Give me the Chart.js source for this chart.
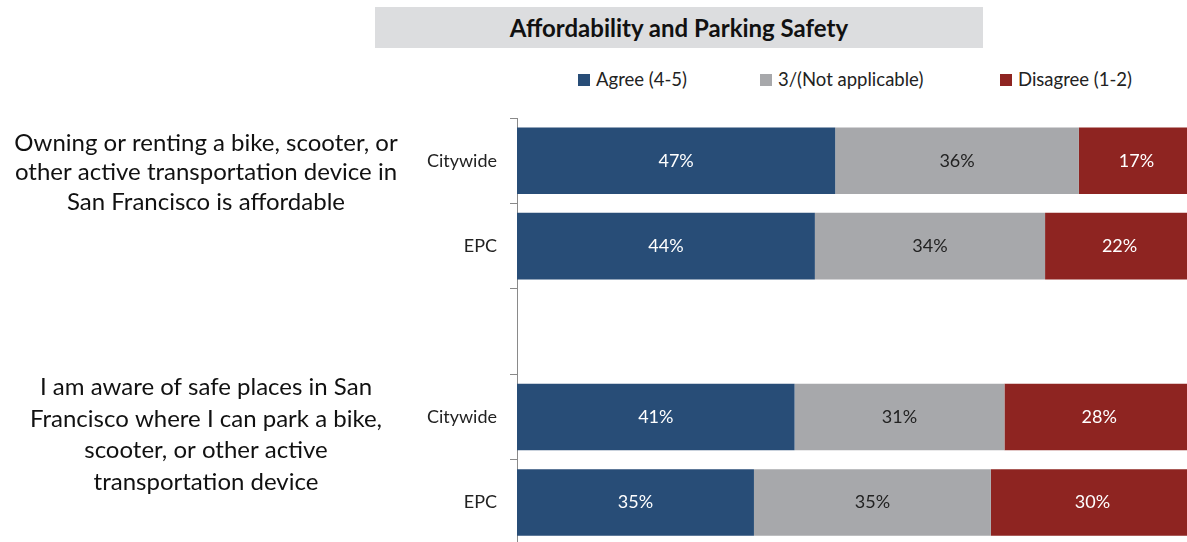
<!DOCTYPE html>
<html>
<head>
<meta charset="utf-8">
<script src="https://cdn.jsdelivr.net/npm/chart.js@4"></script>
<style>
  html, body { margin: 0; padding: 0; background: #fff; overflow: hidden; }
  body { width: 1187px; height: 542px; position: relative; font-family: Lato, "Open Sans", sans-serif; }
  #title {
    position: absolute; left: 375px; top: 7px; width: 608px; height: 41px;
    background: #dcdddf; color: #111; font-weight: bold; font-size: 24px;
    line-height: 42px; text-align: center;
  }
  .item { position: absolute; top: 68px; font-size: 18.5px; color: #222; white-space: nowrap; }
  .box { display: inline-block; width: 12px; height: 12px; margin-right: 6px; vertical-align: 0px; }
  #chart { position: absolute; left: 0; top: 0; }
</style>
</head>
<body>
<div id="title"></div>
<div id="legend"></div>
<canvas id="chart" width="1194" height="569"></canvas>
<script>
var chartTitle = "Affordability and Parking Safety";
var categories = ["Citywide", "EPC", "", "Citywide", "EPC"];
var seriesNames = ["Agree (4-5)", "3/(Not applicable)", "Disagree (1-2)"];
var seriesColors = ["#284d77", "#a7a8ab", "#8e2421"];
var labelColors = ["#ffffff", "#222222", "#ffffff"];
var agree = [47, 44, null, 41, 35];
var neutral = [36, 34, null, 31, 35];
var disagree = [17, 22, null, 28, 30];
var questions = [
  { rows: [0, 1], lines: ["Owning or renting a bike, scooter, or", "other active transportation device in", "San Francisco is affordable"] },
  { rows: [3, 4], lines: ["I am aware of safe places in San", "Francisco where I can park a bike,", "scooter, or other active", "transportation device"] }
];

// text block placement (layout only)
var questionShift = [-31, -25];
var questionLineHeight = [29.5, 31.7];

document.getElementById("title").textContent = chartTitle;
var legendLeft = [578, 760, 1000];
var legendHtml = "";
for (var i = 0; i < seriesNames.length; i++) {
  legendHtml += '<span class="item" style="left:' + legendLeft[i] + 'px"><span class="box" style="background:' + seriesColors[i] + '"></span>' + seriesNames[i] + '</span>';
}
document.getElementById("legend").innerHTML = legendHtml;

var font = "Lato, 'Open Sans', sans-serif";

var barLabels = {
  id: "barLabels",
  afterDatasetsDraw: function(chart) {
    var ctx = chart.ctx;
    ctx.save();
    ctx.font = "18px " + font;
    ctx.textAlign = "center";
    ctx.textBaseline = "middle";
    chart.data.datasets.forEach(function(ds, di) {
      var meta = chart.getDatasetMeta(di);
      meta.data.forEach(function(bar, j) {
        var v = ds.data[j];
        if (v == null) return;
        var p = bar.getProps(["x", "y", "base"], true);
        ctx.fillStyle = labelColors[di];
        ctx.fillText(v + "%", (p.x + p.base) / 2, p.y);
      });
    });
    ctx.restore();
  }
};

var questionText = {
  id: "questionText",
  afterDraw: function(chart) {
    var ctx = chart.ctx;
    var y = chart.scales.y;
    ctx.save();
    ctx.font = "24px " + font;
    ctx.fillStyle = "#111";
    ctx.textAlign = "center";
    ctx.textBaseline = "middle";
    questions.forEach(function(q, n) {
      var lh = questionLineHeight[n];
      var mid = (y.getPixelForValue(q.rows[0]) + y.getPixelForValue(q.rows[1])) / 2 + questionShift[n];
      var top = mid - (q.lines.length - 1) * lh / 2;
      q.lines.forEach(function(line, k) {
        ctx.fillText(line, 206, top + k * lh);
      });
    });
    ctx.restore();
  }
};

new Chart(document.getElementById("chart"), {
  type: "bar",
  data: {
    labels: categories,
    datasets: [
      { label: seriesNames[0], data: agree, backgroundColor: seriesColors[0] },
      { label: seriesNames[1], data: neutral, backgroundColor: seriesColors[1] },
      { label: seriesNames[2], data: disagree, backgroundColor: seriesColors[2] }
    ]
  },
  options: {
    indexAxis: "y",
    responsive: false,
    animation: false,
    layout: { padding: { top: 118, left: 0, right: 0, bottom: 0 } },
    datasets: { bar: { categoryPercentage: 1, barPercentage: 0.78 } },
    plugins: { legend: { display: false }, tooltip: { enabled: false } },
    scales: {
      x: { stacked: true, min: 0, max: 100, display: false },
      y: {
        stacked: true,
        afterFit: function(s) { s.width = 517; },
        border: { color: "#8a8a8a", width: 1 },
        grid: { drawOnChartArea: false, drawTicks: true, tickLength: 7, color: "#8a8a8a", offset: true },
        ticks: { color: "#222", padding: 13, font: { family: font, size: 18 } }
      }
    }
  },
  plugins: [barLabels, questionText]
});
</script>
</body>
</html>
